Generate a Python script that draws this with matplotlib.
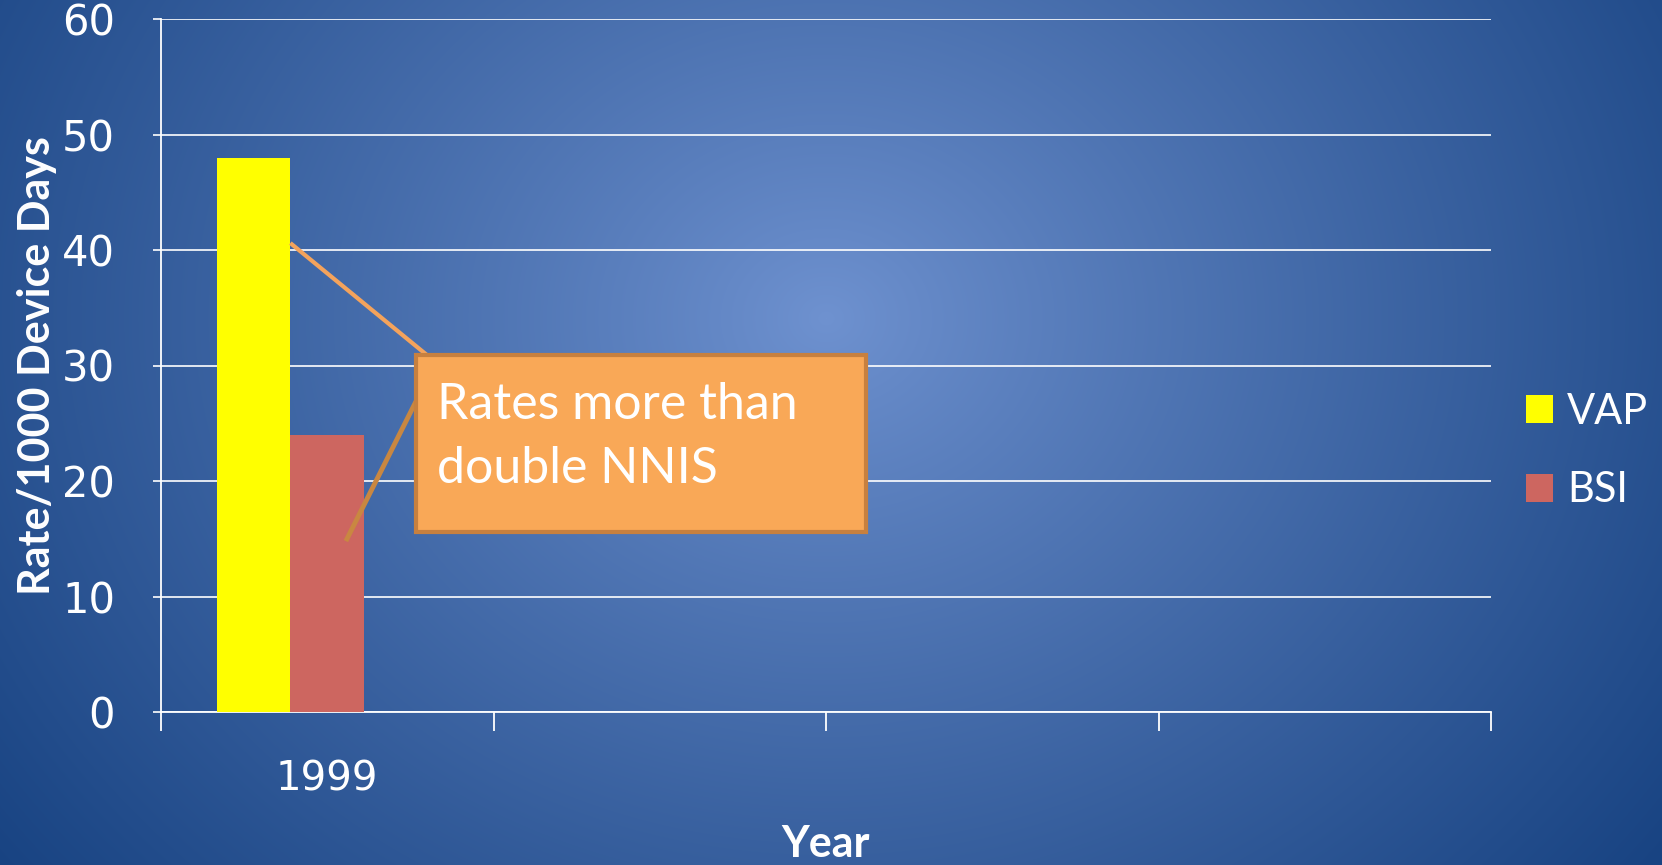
import numpy as np
import matplotlib
matplotlib.use("Agg")
import matplotlib.pyplot as plt
from matplotlib.patches import Rectangle, Patch

# Chart data
years = ["1999", "", "", ""]
series_names = ["VAP", "BSI"]
vap_values = [48]
bsi_values = [24]
series_colors = ["#FFFF00", "#CD6660"]
y_ticks = [0, 10, 20, 30, 40, 50, 60]
callout_text = "Rates more than\ndouble NNIS"

W, H, DPI = 1662, 865, 100
fig = plt.figure(figsize=(W / DPI, H / DPI), dpi=DPI)

# Radial blue gradient background
bg = fig.add_axes([0, 0, 1, 1], zorder=-10)
yy, xx = np.mgrid[0:H, 0:W]
cx, cy = 826, 318
r = np.sqrt(((xx - cx) / 1.0) ** 2 + ((yy - cy) / 0.85) ** 2)
f = np.clip(r / 1050.0, 0, 1) ** 0.9
center = np.array([0x6F, 0x92, 0xD0]) / 255.0
edge = np.array([0x18, 0x43, 0x82]) / 255.0
img = center[None, None, :] * (1 - f[..., None]) + edge[None, None, :] * f[..., None]
bg.imshow(img, aspect="auto", extent=[0, 1, 0, 1], origin="upper")
bg.axis("off")

ax = fig.add_axes([161 / W, 1 - 712 / H, (1491 - 161) / W, (712 - 19) / H])
ax.patch.set_alpha(0)

n_cat = len(years)
cats = np.arange(n_cat)
bar_w = 0.222
offsets = [-bar_w, 0.0]

ax.bar(cats[:len(vap_values)] + offsets[0], vap_values, width=bar_w,
       color=series_colors[0], zorder=3)
ax.bar(cats[:len(bsi_values)] + offsets[1], bsi_values, width=bar_w,
       color=series_colors[1], zorder=3)

ax.set_xlim(-0.5, n_cat - 0.5)
ax.set_ylim(0, 60)
ax.set_yticks(y_ticks)
ax.grid(axis="y", color="white", linewidth=1.2, zorder=1)
ax.set_axisbelow(True)

for s in ["top", "right"]:
    ax.spines[s].set_visible(False)
for s in ["left", "bottom"]:
    ax.spines[s].set_color("white")
    ax.spines[s].set_linewidth(1.3)

tick_font = dict(family="DejaVu Sans", size=29, color="white")
ax.tick_params(axis="y", colors="white", length=6, width=1.2, pad=27,
               labelsize=30, labelcolor="white")
for lbl in ax.get_yticklabels():
    lbl.set_fontfamily("DejaVu Sans")

ax.set_xticks(cats)
ax.set_xticklabels(years, **tick_font)
ax.tick_params(axis="x", which="major", length=0, pad=34)
ax.set_xticks(np.arange(n_cat + 1) - 0.5, minor=True)
ax.tick_params(axis="x", which="minor", length=14, width=1.3, color="white")

ax.set_ylabel("Rate/1000 Device Days", fontsize=31, fontweight="bold",
              color="white", family="Lato")
ax.yaxis.set_label_coords(-0.093, 0.5)
ax.yaxis.label.set_va("center")
ax.set_xlabel("Year", fontsize=31, fontweight="bold", color="white",
              family="Lato")
ax.xaxis.set_label_coords(0.5, -0.19)
ax.xaxis.label.set_va("center")

# Callout box and its pointer lines
ax.plot([0.30, -bar_w / 2], [30.9, 40.6], color="#F4A35C", lw=3, zorder=4,
        solid_capstyle="butt")
ax.plot([0.267, 0.056], [26.9, 14.8], color="#C98741", lw=3.5, zorder=4,
        solid_capstyle="butt")
box = Rectangle((0.1917, 0.2597), 0.530 - 0.1917, 0.515 - 0.2597,
                transform=ax.transAxes, facecolor="#F9A857",
                edgecolor="#C7803F", linewidth=3, zorder=5)
ax.add_patch(box)
ax.text((437 - 161) / 1330, (712 - 437) / 693, callout_text,
        transform=ax.transAxes, ha="left", va="center", color="white",
        fontsize=36, family="Lato", linespacing=1.47, zorder=6)

handles = [Patch(facecolor=c, edgecolor="none") for c in series_colors]
fig.legend(handles, series_names, loc="center left",
           bbox_to_anchor=(1526 / W, 1 - 451 / H), frameon=False,
           labelcolor="white", prop=dict(family="Lato", size=30),
           handlelength=0.64, handleheight=0.64, handletextpad=0.34,
           labelspacing=0.98, borderpad=0, borderaxespad=0)

fig.savefig("out.png", dpi=DPI)
